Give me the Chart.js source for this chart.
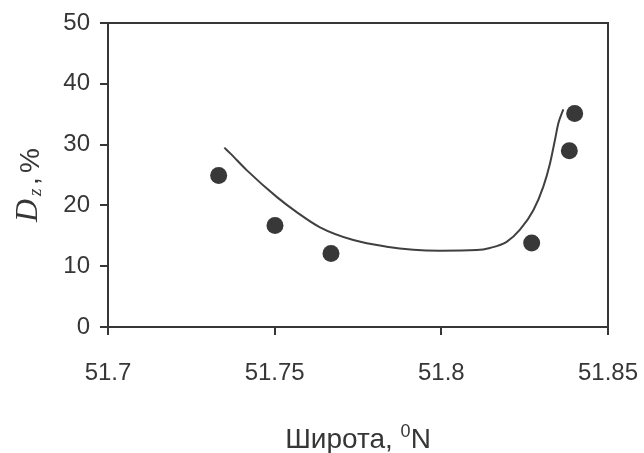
<!DOCTYPE html>
<html>
<head>
<meta charset="utf-8">
<script src="https://cdn.jsdelivr.net/npm/chart.js@4.4.1/dist/chart.umd.min.js"></script>
<style>
  html, body { margin: 0; padding: 0; background: #ffffff; }
  #wrap { width: 644px; height: 453px; position: relative; }
</style>
</head>
<body>
<div id="wrap"><canvas id="c" width="644" height="453"></canvas></div>
<script>
// Observed points
const obsLat = [51.7332, 51.7501, 51.7669, 51.8271, 51.8384, 51.8400];
const obsDz  = [24.9, 16.7, 12.1, 13.8, 29.0, 35.1];
// Fitted curve
const fitLat = [51.7349, 51.7366, 51.7416, 51.7506, 51.7566, 51.7636, 51.7736, 51.7836, 51.7916, 51.7996,
                51.8106, 51.8146, 51.8196, 51.8236, 51.8276, 51.8306, 51.8326, 51.8341, 51.8351, 51.8366];
const fitDz  = [29.5, 28.6, 25.8, 21.4, 18.9, 16.4, 14.3, 13.2, 12.7, 12.55,
                12.65, 13.0, 14.0, 16.0, 19.2, 23.1, 26.9, 30.8, 33.5, 35.8];
// Axis ticks
const xTickValues = [51.7, 51.75, 51.8, 51.85];
const xTickLabels = ['51.7', '51.75', '51.8', '51.85'];
const yTickValues = [0, 10, 20, 30, 40, 50];
const yTickLabels = ['0', '10', '20', '30', '40', '50'];
// Titles
const xTitleMain = 'Широта, ';
const xTitleSup = '0';
const xTitleEnd = 'N';
const yTitleVar = 'D';
const yTitleSub = 'z';
const yTitleComma = ',';
const yTitleUnit = '%';

const INK = '#363636';

const framePlugin = {
  id: 'frameAndTitles',
  afterDraw(chart) {
    const ctx = chart.ctx;
    const a = chart.chartArea;
    ctx.save();
    ctx.strokeStyle = INK;
    ctx.lineWidth = 2;
    ctx.beginPath();
    ctx.moveTo(a.left, a.top);
    ctx.lineTo(a.right, a.top);
    ctx.lineTo(a.right, a.bottom);
    ctx.stroke();

    // x title
    ctx.fillStyle = INK;
    ctx.textBaseline = 'alphabetic';
    const fMain = '28px "Liberation Sans", Arial, sans-serif';
    const fSup = '18px "Liberation Sans", Arial, sans-serif';
    ctx.font = fMain;
    const w1 = ctx.measureText(xTitleMain).width;
    const w3 = ctx.measureText(xTitleEnd).width;
    ctx.font = fSup;
    const w2 = ctx.measureText(xTitleSup).width;
    const total = w1 + w2 + w3;
    let x = (a.left + a.right) / 2 - total / 2;
    const base = 448;
    ctx.font = fMain; ctx.textAlign = 'left';
    ctx.fillText(xTitleMain, x, base); x += w1;
    ctx.font = fSup;
    ctx.fillText(xTitleSup, x, base - 11); x += w2;
    ctx.font = fMain;
    ctx.fillText(xTitleEnd, x, base);

    // y title (rotated)
    ctx.save();
    ctx.translate(37, 220);
    ctx.rotate(-Math.PI / 2);
    ctx.textAlign = 'left';
    ctx.font = 'italic 32px "Liberation Serif", "Times New Roman", serif';
    ctx.fillText(yTitleVar, -2, 0);
    ctx.font = 'italic 19px "Liberation Serif", "Times New Roman", serif';
    ctx.fillText(yTitleSub, 24, 4);
    ctx.font = '28px "Liberation Sans", Arial, sans-serif';
    ctx.fillText(yTitleComma, 35, 1);
    ctx.fillText(yTitleUnit, 47, 2);
    ctx.restore();

    ctx.restore();
  }
};

const tickFont = { family: '"Liberation Sans", Arial, sans-serif', size: 24 };

new Chart(document.getElementById('c'), {
  type: 'scatter',
  data: {
    datasets: [
      {
        label: 'fit',
        type: 'line',
        data: fitLat.map((v, i) => ({ x: v, y: fitDz[i] })),
        borderColor: '#404040',
        borderWidth: 2,
        pointRadius: 0,
        fill: false,
        cubicInterpolationMode: 'monotone',
        order: 2
      },
      {
        label: 'obs',
        data: obsLat.map((v, i) => ({ x: v, y: obsDz[i] })),
        backgroundColor: '#383838',
        borderColor: '#383838',
        borderWidth: 0,
        pointRadius: 8.5,
        pointHoverRadius: 8.5,
        order: 1
      }
    ]
  },
  options: {
    responsive: false,
    animation: false,
    devicePixelRatio: 1,
    layout: { padding: { top: 23, right: 36, left: 0, bottom: 0 } },
    plugins: { legend: { display: false }, tooltip: { enabled: false }, title: { display: false } },
    scales: {
      x: {
        type: 'linear',
        min: 51.7, max: 51.85,
        afterFit(s) { s.height = 126; s.paddingLeft = 0; s.paddingRight = 0; },
        afterBuildTicks(s) { s.ticks = xTickValues.map(v => ({ value: v })); },
        ticks: {
          font: tickFont, color: INK, padding: 24, maxRotation: 0, autoSkip: false,
          callback(v) { const i = xTickValues.findIndex(t => Math.abs(t - v) < 1e-9); return i >= 0 ? xTickLabels[i] : ''; }
        },
        grid: { drawOnChartArea: false, drawTicks: true, tickLength: 8, color: INK, lineWidth: 2 },
        border: { display: true, color: INK, width: 2 }
      },
      y: {
        type: 'linear',
        min: 0, max: 50,
        afterFit(s) { s.width = 108; s.paddingTop = 0; s.paddingBottom = 0; },
        afterBuildTicks(s) { s.ticks = yTickValues.map(v => ({ value: v })); },
        ticks: {
          font: tickFont, color: INK, padding: 10,
          callback(v) { const i = yTickValues.indexOf(v); return i >= 0 ? yTickLabels[i] : ''; }
        },
        grid: { drawOnChartArea: false, drawTicks: true, tickLength: 8, color: INK, lineWidth: 2 },
        border: { display: true, color: INK, width: 2 }
      }
    }
  },
  plugins: [framePlugin]
});
</script>
</body>
</html>
